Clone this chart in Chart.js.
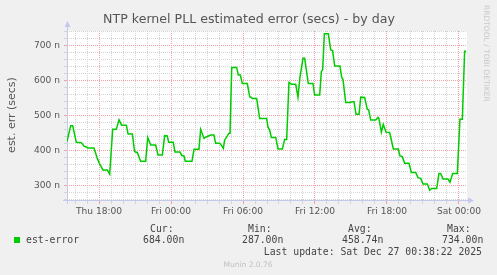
<!DOCTYPE html>
<html><head><meta charset="utf-8">
<script src="https://cdn.jsdelivr.net/npm/chart.js@4.4.1/dist/chart.umd.min.js"></script>
<style>html,body{margin:0;padding:0;background:#F0F0F0;overflow:hidden;} canvas{display:block;}</style>
</head><body>
<canvas id="c" width="497" height="275"></canvas>
<script>
const TITLE = 'NTP kernel PLL estimated error (secs) - by day';
const Y_TITLE = 'est. err (secs)';
const SERIES_NAME = 'est-error';
// time in hours since Thu 00:00
const hours = [15.33,15.64,15.81,16.11,16.53,16.75,16.98,17.06,17.58,17.86,18.03,18.33,18.69,18.89,19.14,19.44,19.67,19.89,20.28,20.42,20.78,20.97,21.19,21.47,21.89,22.06,22.31,22.72,22.92,23.28,23.47,23.69,23.81,24.19,24.33,24.75,24.89,25.08,25.19,25.75,25.92,26.33,26.47,26.75,26.97,27.31,27.58,27.72,28.06,28.19,28.36,28.47,28.83,28.92,29.06,29.47,29.61,29.78,29.94,30.36,30.56,30.69,30.78,31.14,31.39,31.97,32.08,32.22,32.36,32.73,32.92,33.28,33.47,33.64,33.83,34.03,34.39,34.58,34.75,35.0,35.14,35.44,35.83,35.97,36.39,36.53,36.64,36.78,37.11,37.31,37.47,37.64,38.08,38.22,38.33,38.56,38.92,39.11,39.25,39.42,39.67,39.81,40.14,40.36,40.47,40.64,41.06,41.25,41.33,41.53,41.69,41.92,42.22,42.53,42.94,43.08,43.28,43.47,43.83,44.03,44.39,44.58,44.81,45.0,45.36,45.56,45.72,46.14,46.33,46.47,46.67,47.08,47.25,47.47,47.86,48.08,48.28,48.47,48.6];
// estimated error, nanoseconds
const estError = [426,471,471,424,423,413,410,408,408,378,364,345,345,333,461,461,488,473,473,448,448,397,395,370,370,438,416,416,388,388,443,442,424,424,396,396,387,385,370,370,404,404,461,435,440,445,445,421,421,416,407,430,450,450,638,638,616,616,592,592,554,552,549,549,492,492,468,459,438,438,405,405,432,432,595,590,590,553,611,664,664,592,592,559,559,626,631,734,734,688,686,642,642,610,604,538,538,540,540,504,504,553,552,518,517,488,488,495,492,453,475,453,452,405,405,385,383,364,364,338,338,323,321,305,305,287,292,292,335,335,319,319,310,335,335,490,490,684,684];
const xTickHours = [18, 24, 30, 36, 42, 48];
const xTickLabels = ['Thu 18:00','Fri 00:00','Fri 06:00','Fri 12:00','Fri 18:00','Sat 00:00'];
const yTickValues = [300, 400, 500, 600, 700];
const statLabels = ['Cur:', 'Min:', 'Avg:', 'Max:'];
const statValues = ['684.00n', '287.00n', '458.74n', '734.00n'];
const LAST_UPDATE = 'Last update: Sat Dec 27 00:38:22 2025';
const FOOTER = 'Munin 2.0.76';
const SIDE_TEXT = 'RRDTOOL / TOBI OETIKER';

const X_MIN = 15.333, X_MAX = 48.667, Y_MIN = 256.3, Y_MAX = 742;
const MAJOR = '#f4a0a0', MINOR = '#d4d4d4', AXIS = '#c4c8ee', TXT = '#555';

const points = hours.map((h, i) => ({x: h, y: estError[i]}));

const decor = {
  id: 'decor',
  beforeDraw(chart) {
    const {ctx, chartArea: a} = chart;
    ctx.save();
    ctx.fillStyle = '#F0F0F0';
    ctx.fillRect(0, 0, chart.width, chart.height);
    ctx.fillStyle = '#FFFFFF';
    ctx.fillRect(a.left, a.top, a.right - a.left, a.bottom - a.top);
    ctx.restore();
  },
  beforeDatasetsDraw(chart) {
    const {ctx, chartArea: a} = chart;
    ctx.save();
    ctx.strokeStyle = AXIS; ctx.fillStyle = AXIS; ctx.lineWidth = 1;
    ctx.beginPath();
    ctx.moveTo(a.left + 0.5, a.bottom + 3); ctx.lineTo(a.left + 0.5, a.top - 4);
    ctx.moveTo(a.left - 4, a.bottom - 0.5); ctx.lineTo(a.right + 2, a.bottom - 0.5);
    ctx.stroke();
    ctx.beginPath();
    ctx.moveTo(a.left + 0.5, a.top - 10); ctx.lineTo(a.left - 2.5, a.top - 4); ctx.lineTo(a.left + 3.5, a.top - 4); ctx.closePath();
    ctx.fill();
    ctx.beginPath();
    ctx.moveTo(a.right + 7, a.bottom - 0.5); ctx.lineTo(a.right + 1, a.bottom - 3.5); ctx.lineTo(a.right + 1, a.bottom + 2.5); ctx.closePath();
    ctx.fill();
    ctx.restore();
  },
  afterDraw(chart) {
    const {ctx} = chart;
    ctx.save();
    ctx.fillStyle = TXT;
    ctx.textBaseline = 'alphabetic';
    ctx.font = '12.6px "DejaVu Sans"';
    ctx.textAlign = 'center';
    ctx.fillText(TITLE, 249, 23);
    // y title
    ctx.save();
    ctx.translate(15, 115);
    ctx.rotate(-Math.PI / 2);
    ctx.font = '11px "DejaVu Sans"';
    ctx.textAlign = 'center';
    ctx.fillText(Y_TITLE, 0, 0);
    ctx.restore();
    // side text
    ctx.save();
    ctx.translate(484, 5);
    ctx.rotate(Math.PI / 2);
    ctx.font = '7.5px "DejaVu Sans"';
    ctx.fillStyle = '#c8c8c8';
    ctx.textAlign = 'left';
    ctx.fillText(SIDE_TEXT, 0, 0);
    ctx.restore();
    // legend
    ctx.fillStyle = '#00CC00';
    ctx.fillRect(14, 237, 6, 6);
    ctx.fillStyle = '#444';
    ctx.font = '9.8px "DejaVu Sans Mono"';
    ctx.textAlign = 'left';
    ctx.fillText(SERIES_NAME, 26, 243);
    const headX = [150, 248, 348, 447];
    const valX = [143, 242, 342, 442];
    statLabels.forEach((s, i) => ctx.fillText(s, headX[i], 232));
    statValues.forEach((s, i) => ctx.fillText(s, valX[i], 243));
    ctx.textAlign = 'right';
    ctx.fillText(LAST_UPDATE, 482, 254.5);
    ctx.textAlign = 'center';
    ctx.font = '7.5px "DejaVu Sans"';
    ctx.fillStyle = '#c0c0c0';
    ctx.fillText(FOOTER, 248, 266.5);
    ctx.restore();
  }
};

new Chart(document.getElementById('c'), {
  type: 'line',
  data: {
    datasets: [{
      label: SERIES_NAME,
      data: points,
      borderColor: '#00CC00',
      borderWidth: 1.5,
      pointRadius: 0,
      tension: 0,
      fill: false
    }]
  },
  options: {
    responsive: false,
    animation: false,
    devicePixelRatio: 1,
    layout: {padding: {left: 0, top: 31, right: 30, bottom: 0}},
    plugins: {legend: {display: false}, title: {display: false}, tooltip: {enabled: false}},
    scales: {
      x: {
        type: 'linear', min: X_MIN, max: X_MAX,
        afterFit(s) { s.height = 74; },
        ticks: {
          stepSize: 1, includeBounds: false, autoSkip: false, maxRotation: 0,
          padding: 2, color: TXT, font: {family: 'DejaVu Sans', size: 9.1},
          callback(v) { const i = xTickHours.indexOf(Math.round(v)); return (i >= 0 && Math.abs(v - xTickHours[i]) < 1e-6) ? xTickLabels[i] : ''; }
        },
        grid: {
          color: c => (c.tick && Math.round(c.tick.value) % 6 === 0) ? MAJOR : MINOR,
          tickLength: 3, lineWidth: 1
        },
        border: {display: false, dash: [1, 1]}
      },
      y: {
        type: 'linear', min: Y_MIN, max: Y_MAX,
        afterFit(s) { s.width = 67; },
        ticks: {
          stepSize: 20, includeBounds: false, maxTicksLimit: 100, autoSkip: false,
          padding: 4, color: TXT, font: {family: 'DejaVu Sans', size: 9.1},
          callback(v) { return yTickValues.includes(Math.round(v)) ? Math.round(v) + ' n' : ''; }
        },
        grid: {
          color: c => (c.tick && Math.round(c.tick.value) % 100 === 0) ? MAJOR : MINOR,
          tickLength: 3, lineWidth: 1
        },
        border: {display: false, dash: [1, 1]}
      }
    }
  },
  plugins: [decor]
});
</script>
</body></html>
